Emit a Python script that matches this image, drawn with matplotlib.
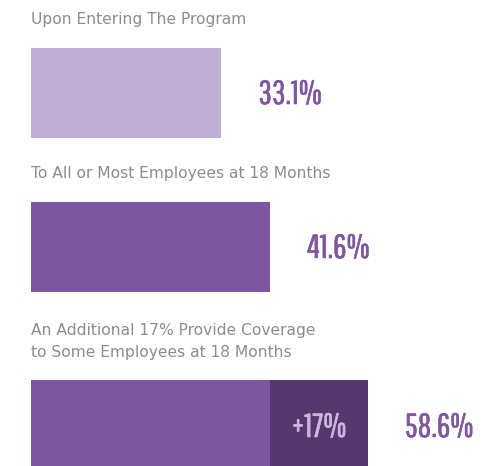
import matplotlib.pyplot as plt
import matplotlib.patheffects as pe

# data
labels = ["Upon Entering The Program",
          "To All or Most Employees at 18 Months",
          "An Additional 17% Provide Coverage\nto Some Employees at 18 Months"]
base = [33.1, 41.6, 41.6]
extra = [0, 0, 17.0]
totals = ["33.1%", "41.6%", "58.6%"]
extra_label = "+17%"

bar_colors = ["#bfafd4", "#7f57a1", "#7f57a1"]
extra_color = "#56386f"
value_color = "#7f57a1"
extra_text_color = "#c9b6df"
label_color = "#8c8c8c"

# layout (pixel rows, top-down)
bar_centers = [93, 247, 425]
bar_h = 90
label_base = [24, 178, 335]
value_base = [104, 258, 437]
line_gap = 22
W, H = 487, 466
px_per_unit = 5.75
left_px = 31

fig = plt.figure(figsize=(W / 100, H / 100), dpi=100)
ax = fig.add_axes([0, 0, 1, 1])
ax.set_xlim(-left_px / px_per_unit, (W - left_px) / px_per_unit)
ax.set_ylim(H, 0)
ax.axis("off")

num_font = ["Pathway Gothic One", "DejaVu Sans"]
txt_font = ["DejaVu Sans"]

def thick(color):
    return [pe.Stroke(linewidth=0.4, foreground=color), pe.Normal()]

for i in range(3):
    ax.barh(bar_centers[i], base[i], height=bar_h, left=0,
            color=bar_colors[i], linewidth=0)
    end = base[i]
    if extra[i] > 0:
        ax.barh(bar_centers[i], extra[i], height=bar_h, left=base[i],
                color=extra_color, linewidth=0)
        ax.text(base[i] + extra[i] / 2, value_base[i], extra_label,
                ha="center", va="baseline", fontsize=24, color=extra_text_color,
                family=num_font, path_effects=thick(extra_text_color))
        end = base[i] + extra[i]
    ax.text(end + 37 / px_per_unit, value_base[i], totals[i], ha="left",
            va="baseline", fontsize=24, color=value_color, family=num_font,
            path_effects=thick(value_color))
    for j, line in enumerate(labels[i].split("\n")):
        ax.text(0, label_base[i] + j * line_gap, line, ha="left",
                va="baseline", fontsize=11.2, color=label_color,
                family=txt_font)

fig.savefig("out.png", dpi=100)
